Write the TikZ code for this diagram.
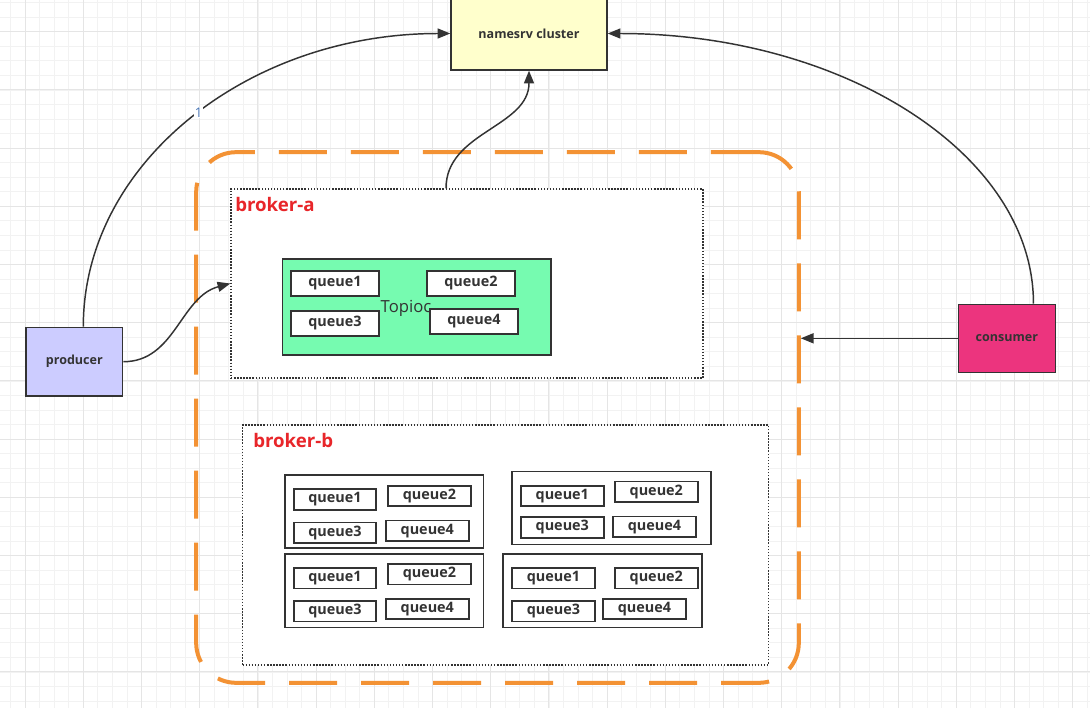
\documentclass[tikz,border=0pt]{standalone}
\usepackage{fontspec}
\setmainfont{Open Sans}
\usetikzlibrary{arrows.meta,positioning}
\definecolor{linec}{RGB}{51,51,51}
\definecolor{orng}{RGB}{243,146,52}
\definecolor{tagred}{RGB}{232,38,42}
\definecolor{lblblue}{RGB}{70,115,180}
\definecolor{nsfill}{RGB}{255,255,204}
\definecolor{prfill}{RGB}{204,204,255}
\definecolor{cofill}{RGB}{236,52,126}
\definecolor{tpfill}{RGB}{118,251,176}
\tikzset{
  ent/.style={draw=linec, line width=1.1pt, align=center, font=\bfseries\fontsize{9.4}{11}\selectfont, text=linec, inner sep=0pt},
  qbox/.style={draw=linec, line width=1.3pt, fill=white, font=\bfseries\fontsize{10.8}{12}\selectfont, text=linec, inner sep=0pt, minimum width=62pt, minimum height=15.4pt},
  qboxa/.style={qbox, minimum width=65.6pt, minimum height=18.7pt},
  grp/.style={draw=linec, line width=1.1pt, inner sep=0pt, minimum width=149pt, minimum height=55pt},
  brk/.style={draw=linec, line width=1.1pt, dash pattern=on 1.1pt off 1.2pt, fill=white, inner sep=0pt},
  tag/.style={font=\bfseries\fontsize{14}{16}\selectfont, text=tagred, inner sep=0pt, anchor=west},
  clus/.style={draw=orng, line width=3pt, rounded corners=30pt, dash pattern=on 36pt off 18pt, inner sep=0pt},
  arr/.style={-{Triangle[length=9.5pt,width=7.5pt]}, line width=1.1pt, draw=linec},
  lbl/.style={font=\fontsize{10}{11}\selectfont, text=lblblue, fill=white, inner sep=0.5pt},
  gridminor/.style={draw=black!5, line width=0.6pt},
  gridmajor/.style={draw=black!10, line width=0.7pt},
}
\begin{document}
\begin{tikzpicture}[x=0.75pt,y=-0.75pt]
\useasboundingbox (0,0) rectangle (1090,708);
% background grid
\fill[white] (0,0) rectangle (1090,708);
\foreach \i in {0,...,74} \draw[gridminor] ({10.55+14.55*\i},0) -- ++(0,708);
\foreach \i in {0,...,48} \draw[gridminor] (0,{2.6+14.55*\i}) -- ++(1090,0);
\foreach \i in {0,...,18} \draw[gridmajor] ({25.1+58.2*\i},0) -- ++(0,708);
\foreach \i in {0,...,11} \draw[gridmajor] (0,{31.7+58.2*\i}) -- ++(1090,0);

% cluster and brokers
\node[clus, minimum width=452pt, minimum height=398pt] (cluster) at (497.5,417.5) {};
\node[brk, minimum width=354pt, minimum height=141.7pt] (brokera) at (467,283.5) {};
\node[brk, minimum width=394.5pt, minimum height=180pt] (brokerb) at (505.5,545) {};
\node[tag] (taga) at (235,204) {broker-a};
\node[tag] (tagb) at (253,440) {broker-b};

% broker-a topic
\node[draw=linec, line width=1.1pt, fill=tpfill, inner sep=0pt, minimum width=201.4pt, minimum height=72pt] (topic) at (416.8,307) {};
\node[font=\fontsize{12.5}{14}\selectfont, text=linec, inner sep=0pt] (topictxt) at (406,308) {Topioc};
\node[qboxa] (qa1) at (335,283.5) {queue1};
\node[qboxa] (qa2) at (471,283.5) {queue2};
\node[qboxa] (qa3) at (335,323.5) {queue3};
\node[qboxa] (qa4) at (474,321.5) {queue4};

% broker-b topics
\node[grp] (g1) at (384.1,511.5) {};
\node[qbox] (q11) at (335,499.5) {queue1};
\node[qbox] (q12) at (429.5,496) {queue2};
\node[qbox] (q13) at (335,532.7) {queue3};
\node[qbox] (q14) at (427.3,530.7) {queue4};
\node[grp] (g2) at (611.5,508) {};
\node[qbox] (q21) at (562.3,496) {queue1};
\node[qbox] (q22) at (656.3,491.8) {queue2};
\node[qbox] (q23) at (562.3,527.5) {queue3};
\node[qbox] (q24) at (654.5,526.7) {queue4};
\node[grp] (g3) at (384.1,590.8) {};
\node[qbox] (q31) at (335,578.3) {queue1};
\node[qbox] (q32) at (429.5,574.3) {queue2};
\node[qbox] (q33) at (335,611.3) {queue3};
\node[qbox] (q34) at (427.3,609) {queue4};
\node[grp] (g4) at (602.5,590.8) {};
\node[qbox] (q41) at (553.5,578.3) {queue1};
\node[qbox] (q42) at (656.3,578.3) {queue2};
\node[qbox] (q43) at (553.5,611.3) {queue3};
\node[qbox] (q44) at (644.5,609) {queue4};

% clients and name server
\node[ent, fill=nsfill, minimum width=117pt, minimum height=54.7pt] (namesrv) at (529,33.5) {namesrv cluster};
\node[ent, fill=prfill, minimum width=72.5pt, minimum height=51.5pt] (producer) at (74.3,361.7) {producer};
\node[ent, fill=cofill, minimum width=72.8pt, minimum height=51pt] (consumer) at (1006.8,338.3) {consumer};

\draw[arr] ([xshift=6.75pt]producer.north) .. controls +(0,-163) and +(-203,0) .. node[lbl, pos=0.52]{1} (namesrv.west);
\draw[arr] (producer.east) to[out=0, in=195] (brokera.west);
\draw[arr] ([xshift=-15.75pt]brokera.north) to[out=90, in=270] (namesrv.south);
\draw[arr] ([xshift=20pt]consumer.north) .. controls +(0,-150) and +(235,0) .. (namesrv.east);
\draw[arr] (consumer.west) -- (consumer.west -| cluster.east);
\end{tikzpicture}
\end{document}
